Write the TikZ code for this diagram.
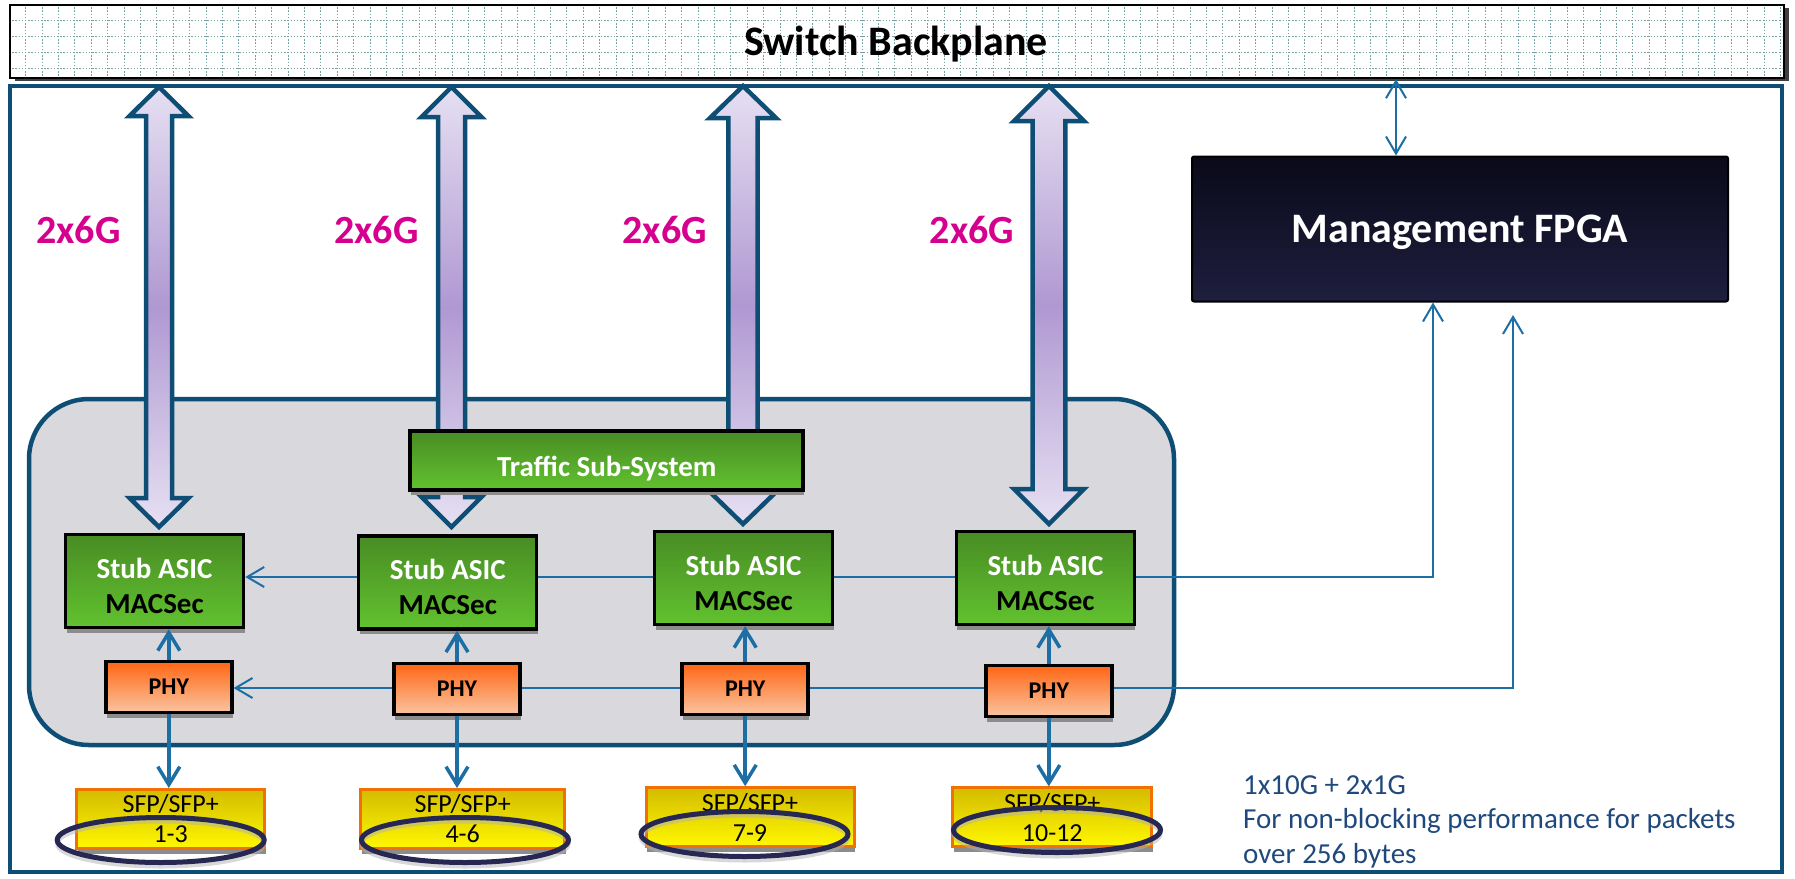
\documentclass[tikz,border=0pt]{standalone}
\usepackage{fontspec}
\setmainfont{Carlito}
\usetikzlibrary{arrows.meta,shadows,shapes.geometric}

\definecolor{frameblue}{RGB}{14,78,117}
\definecolor{linkblue}{RGB}{28,110,165}
\definecolor{panelgray}{RGB}{216,216,221}
\definecolor{greentop}{RGB}{72,140,36}
\definecolor{greenbot}{RGB}{98,194,47}
\definecolor{phytop}{RGB}{255,102,20}
\definecolor{phybot}{RGB}{250,196,160}
\definecolor{sfptop}{RGB}{212,188,0}
\definecolor{sfpbot}{RGB}{255,248,0}
\definecolor{sfpedge}{RGB}{240,112,0}
\definecolor{ringnavy}{RGB}{38,40,82}
\definecolor{fpgatop}{RGB}{10,10,26}
\definecolor{fpgabot}{RGB}{30,30,62}
\definecolor{ratemag}{RGB}{214,0,143}
\definecolor{notesblue}{RGB}{31,73,125}
\definecolor{buslight}{RGB}{230,224,242}
\definecolor{busdark}{RGB}{176,152,210}
\definecolor{gridteal}{RGB}{120,160,160}

\newcommand{\fsz}[2]{\fontsize{#1}{#2}\selectfont}

% double-headed bus arrow: x, top tip y, bottom tip y, half shaft, half head, head length
\newcommand{\busarrow}[6]{%
  \path[bus] ({#1},{#2}) -- ({#1+#5},{#2+#6}) -- ({#1+#4},{#2+#6})
    -- ({#1+#4},{#3-#6}) -- ({#1+#5},{#3-#6}) -- ({#1},{#3})
    -- ({#1-#5},{#3-#6}) -- ({#1-#4},{#3-#6}) -- ({#1-#4},{#2+#6})
    -- ({#1-#5},{#2+#6}) -- cycle;}

\tikzset{
  boxshadow/.style={drop shadow={shadow xshift=1pt, shadow yshift=-5pt, fill=black!45, opacity=1}},
  box/.style={draw=black, line width=3.5pt, inner sep=0pt, align=center, boxshadow},
  stub/.style={box, minimum width=178pt, minimum height=93pt, top color=greentop,
    bottom color=greenbot, text=white, font=\fsz{29}{35}\bfseries},
  phy/.style={box, minimum width=126pt, minimum height=51pt, top color=phytop,
    bottom color=phybot, font=\fsz{24}{28}\bfseries},
  tss/.style={box, minimum width=393pt, minimum height=59pt, top color=greentop,
    bottom color=greenbot, text=white, font=\fsz{29}{35}\bfseries,
    text height=32pt, text depth=0pt},
  sfp/.style={draw=sfpedge, line width=3pt, inner sep=0pt, minimum height=59pt,
    top color=sfptop, bottom color=sfpbot, align=center, font=\fsz{26}{30}, boxshadow},
  ring/.style={ellipse, draw=ringnavy, line width=5pt, minimum width=207pt,
    minimum height=45pt, inner sep=0pt},
  ringshade/.style={draw=black!30, line width=4pt, opacity=0.5},
  rate/.style={text=ratemag, font=\fsz{40}{48}\bfseries, inner sep=0pt},
  link/.style={draw=linkblue, line width=2pt},
  barb/.style={-{Straight Barb[length=17pt,width=20pt]}},
  feed/.style={draw=linkblue, line width=3.5pt, -{Straight Barb[length=18pt,width=22pt]}},
  bus/.style={draw=frameblue, line width=4.5pt, line join=miter, top color=buslight,
    bottom color=buslight, middle color=busdark},
  gridline/.style={draw=gridteal, line width=0.9pt, dash pattern=on 1.4pt off 1.8pt},
}

\begin{document}
\begin{tikzpicture}[x=1pt, y=-1pt]
\useasboundingbox (0,0) rectangle (1795,878);

% line card outline
\node[draw=frameblue, line width=4pt, minimum width=1772pt, minimum height=786pt,
  inner sep=0pt] (card) at (896,479) {};

% switch backplane with its grid texture
\node[draw=black, line width=2.5pt, fill=white, minimum width=1774pt, minimum height=73pt,
  inner sep=0pt, drop shadow={shadow xshift=5pt, shadow yshift=-3pt, fill=black!75, opacity=1}]
  (bp) at (897,41.5) {};
\begin{scope}
  \clip (10.5,5.5) rectangle (1782.5,76.5);
  \foreach \k in {0,...,108} {\draw[gridline] ({25.6+16.4*\k},4) -- ++(0,76);}
  \foreach \gy in {20.7,36.7,52.7,68.7} {\draw[gridline] (9,\gy) -- (1786,\gy);}
\end{scope}
\node[font=\fsz{42}{50}\bfseries, text depth=0pt] (bplabel) at (896,41) {Switch Backplane};

% stub subsystem panel
\node[draw=frameblue, line width=4.5pt, fill=panelgray, rounded corners=60pt,
  minimum width=1145pt, minimum height=346pt, inner sep=0pt] (panel) at (601.5,572) {};

% 2x6G bus arrows between backplane and stub ASICs
\busarrow{159}{87}{527}{13}{29.5}{29}
\busarrow{451.5}{87}{527}{13.5}{30}{30}
\busarrow{743}{86}{524}{14.6}{33}{32}
\busarrow{1049}{86}{524}{16.3}{35}{35}

% bus rate labels
\node[rate] (r1) at (78.5,230) {2x6G};
\node[rate] (r2) at (376.4,230) {2x6G};
\node[rate] (r3) at (664.7,230) {2x6G};
\node[rate] (r4) at (972,230) {2x6G};

% traffic sub-system
\node[tss] (tss) at (606.7,460.5) {Traffic Sub-System};

% stub ASICs
\node[stub] (S1) at (154.5,581) {\rule{0pt}{30pt}Stub ASIC\\{\color{black}MACSec}};
\node[stub] (S2) at (447.7,582.5) {\rule{0pt}{30pt}Stub ASIC\\{\color{black}MACSec}};
\node[stub] (S3) at (743.5,578) {\rule{0pt}{30pt}Stub ASIC\\{\color{black}MACSec}};
\node[stub] (S4) at (1045.4,578) {\rule{0pt}{30pt}Stub ASIC\\{\color{black}MACSec}};

% PHYs
\node[phy] (P1) at (168.8,687) {PHY};
\node[phy] (P2) at (457,689) {PHY};
\node[phy] (P3) at (745.2,689) {PHY};
\node[phy] (P4) at (1048.8,691) {PHY};

% management FPGA
\node[draw=black, line width=2pt, rounded corners=2pt, top color=fpgatop, bottom color=fpgabot,
  minimum width=536pt, minimum height=145pt, inner sep=0pt, text=white,
  font=\fsz{42}{50}\bfseries, text depth=0pt] (fpga) at (1460,229) {Management FPGA};

% management links
\coordinate (mx) at (1396,0);
\draw[link, {Straight Barb[length=17pt,width=20pt]}-{Straight Barb[length=17pt,width=20pt]}]
  (mx |- bp.south) -- (mx |- fpga.north);

\coordinate (sl) at (0,577);
\coordinate (pl) at (0,688);
\coordinate (m1) at (1433,577);
\coordinate (m2) at (1513,688);
\coordinate (m2end) at (1513,315);

\draw[link,barb] (S2.west |- sl) -- (S1.east |- sl);
\draw[link] (S3.west |- sl) -- (S2.east |- sl);
\draw[link] (S4.west |- sl) -- (S3.east |- sl);
\draw[link,barb] (S4.east |- sl) -- (m1) -- (m1 |- fpga.south);

\draw[link,barb] (P2.west |- pl) -- (P1.east |- pl);
\draw[link] (P3.west |- pl) -- (P2.east |- pl);
\draw[link] (P4.west |- pl) -- (P3.east |- pl);
\draw[link,barb] (P4.east |- pl) -- (m2) -- (m2end);

% SFP cages
\node[sfp, minimum width=188pt] (F1) at (170.7,819) {SFP/SFP+\\1-3};
\node[sfp, minimum width=204pt] (F2) at (462.7,819) {SFP/SFP+\\4-6};
\node[sfp, minimum width=208pt] (F3) at (750,817.2) {SFP/SFP+\\7-9};
\node[sfp, minimum width=199pt] (F4) at (1052.3,817.4) {SFP/SFP+\\10-12};

% PHY to ASIC and PHY to SFP feeds
\foreach \i in {1,2,3,4} {
  \draw[feed] (P\i.north) -- (P\i.north |- S\i.south);
  \draw[feed] (P\i.south) -- (P\i.south |- F\i.north);
}

% port group rings
\draw[ringshade] (160.7,844) ellipse [x radius=103.5, y radius=22.5];
\draw[ringshade] (465,844) ellipse [x radius=103.5, y radius=22.5];
\draw[ringshade] (744.5,838) ellipse [x radius=103.5, y radius=22.5];
\draw[ringshade] (1057,834) ellipse [x radius=103.5, y radius=22.5];
\node[ring] (E1) at (160.7,840) {};
\node[ring] (E2) at (465,840) {};
\node[ring] (E3) at (744.5,834) {};
\node[ring] (E4) at (1057,830) {};

% notes
\node[anchor=north west, inner sep=0pt, align=left, text=notesblue, font=\fsz{29}{34.5}]
  (notes) at (1243,775) {1x10G + 2x1G\\For non-blocking performance for packets\\over 256 bytes};

\end{tikzpicture}
\end{document}
